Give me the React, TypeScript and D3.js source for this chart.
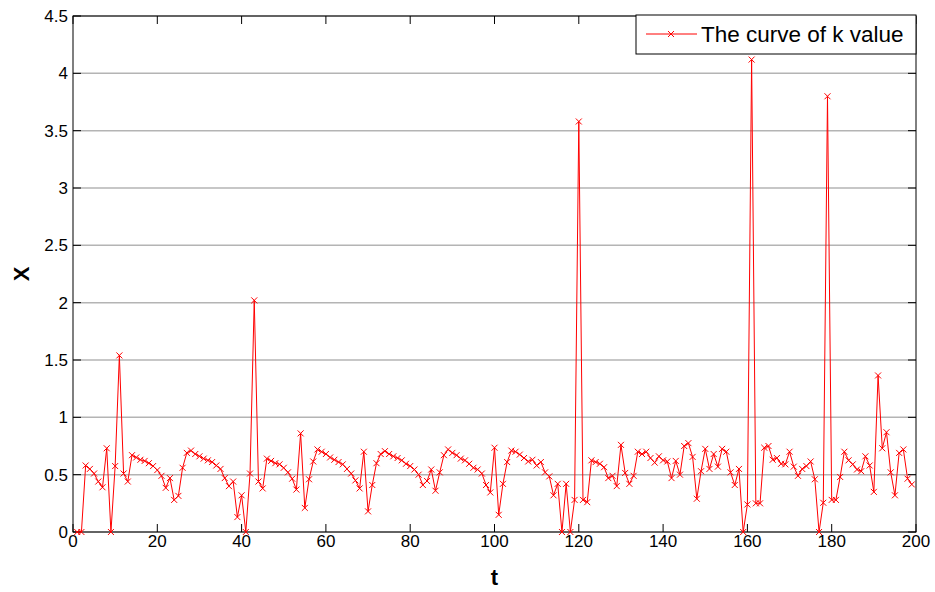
import React from 'react';
import * as d3 from 'd3';

// k value, one per t step (t = 1 .. 199)
const kValues = [
  0, 0, 0.58, 0.55, 0.51, 0.44, 0.39, 0.73, 0, 0.575,
  1.54, 0.51, 0.44, 0.67, 0.65, 0.63, 0.62, 0.6, 0.575, 0.54,
  0.49, 0.385, 0.47, 0.28, 0.315, 0.56, 0.69, 0.71, 0.68, 0.66,
  0.64, 0.625, 0.61, 0.58, 0.55, 0.47, 0.4, 0.44, 0.13, 0.32,
  0, 0.51, 2.02, 0.44, 0.38, 0.64, 0.62, 0.6, 0.59, 0.56,
  0.52, 0.465, 0.37, 0.86, 0.21, 0.46, 0.615, 0.72, 0.7, 0.68,
  0.65, 0.63, 0.61, 0.59, 0.55, 0.51, 0.45, 0.38, 0.7, 0.18,
  0.41, 0.6, 0.68, 0.705, 0.68, 0.66, 0.645, 0.625, 0.595, 0.575,
  0.545, 0.5, 0.41, 0.445, 0.545, 0.36, 0.52, 0.67, 0.72, 0.69,
  0.67, 0.64, 0.625, 0.595, 0.56, 0.545, 0.51, 0.41, 0.345, 0.735,
  0.15, 0.42, 0.61, 0.71, 0.7, 0.675, 0.645, 0.615, 0.63, 0.58,
  0.61, 0.52, 0.485, 0.32, 0.42, 0, 0.42, 0, 0.28, 3.58,
  0.28, 0.26, 0.625, 0.61, 0.595, 0.565, 0.47, 0.49, 0.4, 0.76,
  0.515, 0.42, 0.49, 0.7, 0.68, 0.7, 0.645, 0.605, 0.66, 0.625,
  0.615, 0.47, 0.62, 0.5, 0.75, 0.775, 0.655, 0.29, 0.53, 0.725,
  0.55, 0.68, 0.57, 0.725, 0.7, 0.52, 0.41, 0.55, 0, 0.24,
  4.12, 0.25, 0.25, 0.735, 0.75, 0.63, 0.645, 0.595, 0.59, 0.7,
  0.57, 0.49, 0.55, 0.575, 0.615, 0.46, 0, 0.255, 3.8, 0.28,
  0.28, 0.48, 0.7, 0.625, 0.59, 0.545, 0.53, 0.66, 0.58, 0.35,
  1.365, 0.73, 0.87, 0.52, 0.32, 0.69, 0.72, 0.465, 0.415,
];
const firstT = 1;

const xTicks = [0, 20, 40, 60, 80, 100, 120, 140, 160, 180, 200];
const yTicks = [0, 0.5, 1, 1.5, 2, 2.5, 3, 3.5, 4, 4.5];
const seriesName = 'The curve of k value';

const W = 935;
const H = 592;
const margin = { top: 16, right: 19, bottom: 60, left: 73 };
const font = '"Liberation Sans", Arial, sans-serif';

const App = () => {
  const innerW = W - margin.left - margin.right;
  const innerH = H - margin.top - margin.bottom;

  const x = d3.scaleLinear().domain([0, 200]).range([margin.left, margin.left + innerW]);
  const y = d3.scaleLinear().domain([0, 4.5]).range([margin.top + innerH, margin.top]);

  const points = kValues.map((k, i) => ({ t: firstT + i, k }));

  const line = d3.line<{ t: number; k: number }>()
    .x(d => x(d.t))
    .y(d => y(d.k));

  const left = x(0), right = x(200), top = y(4.5), bottom = y(0);
  const tickLen = 8;
  const m = 3; // half size of the x marker

  const cross = (cx: number, cy: number, key: string | number) => (
    <path
      key={key}
      d={`M${cx - m},${cy - m}L${cx + m},${cy + m}M${cx - m},${cy + m}L${cx + m},${cy - m}`}
      stroke="#ff0000"
      strokeWidth={1}
      fill="none"
    />
  );

  return (
    <svg
      width={W}
      height={H}
      style={{ position: 'absolute', left: 0, top: 0, background: '#fff' }}
      fontFamily={font}
    >
      <rect x={0} y={0} width={W} height={H} fill="#fff" />

      {/* horizontal grid lines */}
      {yTicks.map(v => (
        <line key={'g' + v} x1={left} x2={right} y1={y(v)} y2={y(v)} stroke="#b4b4b4" strokeWidth={1.5} />
      ))}

      {/* axis box */}
      <rect x={left} y={top} width={right - left} height={bottom - top} fill="none" stroke="#000" strokeWidth={1} />

      {/* x ticks, bottom and top, pointing inward */}
      {xTicks.map(v => (
        <g key={'xt' + v}>
          <line x1={x(v)} x2={x(v)} y1={bottom} y2={bottom - tickLen} stroke="#000" />
          <line x1={x(v)} x2={x(v)} y1={top} y2={top + tickLen} stroke="#000" />
          <text x={x(v)} y={bottom + 15} textAnchor="middle" fontSize={17} fill="#000">{v}</text>
        </g>
      ))}

      {/* y ticks, left and right, pointing inward */}
      {yTicks.map(v => (
        <g key={'yt' + v}>
          <line x1={left} x2={left + tickLen} y1={y(v)} y2={y(v)} stroke="#000" />
          <line x1={right} x2={right - tickLen} y1={y(v)} y2={y(v)} stroke="#000" />
          <text x={left - 5} y={y(v)} dy="0.35em" textAnchor="end" fontSize={17} fill="#000">{v}</text>
        </g>
      ))}

      {/* data line and markers */}
      <path d={line(points) || ''} fill="none" stroke="#ff0000" strokeWidth={1} />
      {points.map((p, i) => cross(x(p.t), y(p.k), i))}

      {/* axis labels */}
      <text x={(left + right) / 2} y={585} textAnchor="middle" fontSize={22} fontWeight="bold" fill="#000">t</text>
      <text
        transform={`translate(29,${(top + bottom) / 2}) rotate(-90)`}
        textAnchor="middle"
        fontSize={22}
        fontWeight="bold"
        fill="#000"
      >X</text>

      {/* legend */}
      <g>
        <rect x={636} y={15} width={280} height={39} fill="#fff" stroke="#000" strokeWidth={1} />
        <line x1={646} x2={697} y1={34} y2={34} stroke="#ff0000" strokeWidth={1} />
        {cross(671, 34, 'leg')}
        <text x={701} y={42} fontSize={22.5} fill="#000">{seriesName}</text>
      </g>
    </svg>
  );
};

export default App;
